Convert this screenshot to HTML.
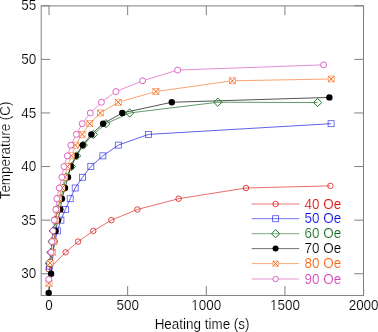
<!DOCTYPE html>
<html><head><meta charset="utf-8"><style>
html,body{margin:0;padding:0;background:#fff;}
body{width:378px;height:332px;overflow:hidden;}
svg{display:block;will-change:transform;}
text{font-family:"Liberation Sans",sans-serif;font-size:13px;stroke:#fff;stroke-width:0.15px;paint-order:fill;}
</style></head><body>
<svg width="378" height="332" viewBox="0 0 378 332">
<rect x="41.2" y="5.9" width="322.30" height="289.55" fill="none" stroke="#808080" stroke-width="1"/>
<line x1="49.00" y1="295.45" x2="49.00" y2="286.05" stroke="#808080" stroke-width="1"/>
<line x1="49.00" y1="5.9" x2="49.00" y2="15.1" stroke="#808080" stroke-width="1"/>
<text transform="translate(49.00,310.00) scale(1.035,1.07)" text-anchor="middle" fill="#000">0</text>
<line x1="127.65" y1="295.45" x2="127.65" y2="286.05" stroke="#808080" stroke-width="1"/>
<line x1="127.65" y1="5.9" x2="127.65" y2="15.1" stroke="#808080" stroke-width="1"/>
<text transform="translate(127.65,310.00) scale(1.035,1.07)" text-anchor="middle" fill="#000">500</text>
<line x1="206.30" y1="295.45" x2="206.30" y2="286.05" stroke="#808080" stroke-width="1"/>
<line x1="206.30" y1="5.9" x2="206.30" y2="15.1" stroke="#808080" stroke-width="1"/>
<text transform="translate(206.30,310.00) scale(1.035,1.07)" text-anchor="middle" fill="#000">1000</text>
<g transform="translate(206.30,310) scale(1.035,1.07)" fill="#fff"><rect x="-13.698" y="-1.05" width="2.507" height="1.4"/><rect x="-10.042" y="-1.05" width="2.438" height="1.4"/></g>
<line x1="284.95" y1="295.45" x2="284.95" y2="286.05" stroke="#808080" stroke-width="1"/>
<line x1="284.95" y1="5.9" x2="284.95" y2="15.1" stroke="#808080" stroke-width="1"/>
<text transform="translate(284.95,310.00) scale(1.035,1.07)" text-anchor="middle" fill="#000">1500</text>
<g transform="translate(284.95,310) scale(1.035,1.07)" fill="#fff"><rect x="-13.698" y="-1.05" width="2.507" height="1.4"/><rect x="-10.042" y="-1.05" width="2.438" height="1.4"/></g>
<line x1="363.60" y1="295.45" x2="363.60" y2="286.05" stroke="#808080" stroke-width="1"/>
<line x1="363.60" y1="5.9" x2="363.60" y2="15.1" stroke="#808080" stroke-width="1"/>
<text transform="translate(363.60,310.00) scale(1.035,1.07)" text-anchor="middle" fill="#000">2000</text>
<line x1="41.2" y1="273.76" x2="50.2" y2="273.76" stroke="#808080" stroke-width="1"/>
<line x1="363.5" y1="273.76" x2="354.3" y2="273.76" stroke="#808080" stroke-width="1"/>
<text transform="translate(36.30,278.46) scale(1.035,1.07)" text-anchor="end" fill="#000">30</text>
<line x1="41.2" y1="220.16" x2="50.2" y2="220.16" stroke="#808080" stroke-width="1"/>
<line x1="363.5" y1="220.16" x2="354.3" y2="220.16" stroke="#808080" stroke-width="1"/>
<text transform="translate(36.30,224.86) scale(1.035,1.07)" text-anchor="end" fill="#000">35</text>
<line x1="41.2" y1="166.56" x2="50.2" y2="166.56" stroke="#808080" stroke-width="1"/>
<line x1="363.5" y1="166.56" x2="354.3" y2="166.56" stroke="#808080" stroke-width="1"/>
<text transform="translate(36.30,171.26) scale(1.035,1.07)" text-anchor="end" fill="#000">40</text>
<line x1="41.2" y1="112.96" x2="50.2" y2="112.96" stroke="#808080" stroke-width="1"/>
<line x1="363.5" y1="112.96" x2="354.3" y2="112.96" stroke="#808080" stroke-width="1"/>
<text transform="translate(36.30,117.66) scale(1.035,1.07)" text-anchor="end" fill="#000">45</text>
<line x1="41.2" y1="59.36" x2="50.2" y2="59.36" stroke="#808080" stroke-width="1"/>
<line x1="363.5" y1="59.36" x2="354.3" y2="59.36" stroke="#808080" stroke-width="1"/>
<text transform="translate(36.30,64.06) scale(1.035,1.07)" text-anchor="end" fill="#000">50</text>
<line x1="41.2" y1="5.76" x2="50.2" y2="5.76" stroke="#808080" stroke-width="1"/>
<line x1="363.5" y1="5.76" x2="354.3" y2="5.76" stroke="#808080" stroke-width="1"/>
<text transform="translate(36.30,10.46) scale(1.035,1.07)" text-anchor="end" fill="#000">55</text>
<text transform="translate(202.10,328.60) scale(1.035,1.07)" text-anchor="middle" fill="#000">Heating time (s)</text>
<text transform="translate(9.8,150.4) rotate(-90) scale(1.035,1.07)" text-anchor="middle">Temperature (C)</text>
<path d="M48.60,269.15L65.60,252.32L78.10,241.60L93.30,230.88L111.40,220.16L137.40,209.44L178.60,198.72L246.00,188.00L330.40,185.86" fill="none" stroke="#dc0a0a" stroke-width="0.8" stroke-opacity="0.75"/>
<path d="M49.30,266.26L57.40,230.88L60.90,220.16L65.40,209.44L70.20,198.72L75.20,188.00L82.50,177.28L90.80,166.56L102.90,155.84L118.30,145.12L148.50,134.40L331.10,123.68" fill="none" stroke="#0a0ae0" stroke-width="0.8" stroke-opacity="0.82"/>
<path d="M49.30,263.04L50.80,252.32L52.00,241.60L53.20,230.88L55.50,220.16L57.60,209.44L60.80,198.72L63.40,188.00L66.00,177.28L71.50,166.56L76.60,155.84L83.30,145.12L93.40,134.40L105.90,123.68L129.70,112.96L217.80,102.24L317.60,102.56" fill="none" stroke="#166c1e" stroke-width="0.8" stroke-opacity="0.85"/>
<path d="M48.70,292.84L51.10,273.76L54.30,241.60L55.60,230.88L57.90,220.16L60.30,209.44L61.90,198.72L65.00,188.00L68.00,177.28L70.80,166.56L75.80,155.84L82.70,145.12L91.40,134.40L103.10,123.68L122.30,112.96L171.80,102.24L329.40,97.42" fill="none" stroke="#000000" stroke-width="0.8" stroke-opacity="0.85"/>
<path d="M49.00,283.41L50.10,263.04L52.60,252.32L53.80,241.60L56.00,220.16L57.00,209.44L58.80,198.72L62.00,188.00L64.80,177.28L67.40,166.56L71.50,155.84L75.50,145.12L82.10,134.40L89.80,123.68L100.30,112.96L118.20,102.24L155.90,91.52L232.40,80.80L331.20,78.98" fill="none" stroke="#f5640f" stroke-width="0.8" stroke-opacity="0.75"/>
<path d="M48.80,279.33L51.00,252.32L51.90,241.60L53.00,230.88L54.30,220.16L55.90,209.44L56.80,198.72L59.20,188.00L61.80,177.28L64.00,166.56L67.40,155.84L70.90,145.12L76.30,134.40L82.20,123.68L90.30,112.96L101.40,102.24L115.90,91.52L142.60,80.80L177.60,70.08L323.60,64.83" fill="none" stroke="#d442b6" stroke-width="0.8" stroke-opacity="0.75"/>
<circle cx="48.60" cy="269.15" r="2.75" fill="none" stroke="#dc0a0a" stroke-width="0.75"/><circle cx="65.60" cy="252.32" r="2.75" fill="none" stroke="#dc0a0a" stroke-width="0.75"/><circle cx="78.10" cy="241.60" r="2.75" fill="none" stroke="#dc0a0a" stroke-width="0.75"/><circle cx="93.30" cy="230.88" r="2.75" fill="none" stroke="#dc0a0a" stroke-width="0.75"/><circle cx="111.40" cy="220.16" r="2.75" fill="none" stroke="#dc0a0a" stroke-width="0.75"/><circle cx="137.40" cy="209.44" r="2.75" fill="none" stroke="#dc0a0a" stroke-width="0.75"/><circle cx="178.60" cy="198.72" r="2.75" fill="none" stroke="#dc0a0a" stroke-width="0.75"/><circle cx="246.00" cy="188.00" r="2.75" fill="none" stroke="#dc0a0a" stroke-width="0.75"/><circle cx="330.40" cy="185.86" r="2.75" fill="none" stroke="#dc0a0a" stroke-width="0.75"/>
<rect x="46.30" y="263.26" width="6.00" height="6.00" fill="none" stroke="#0a0ae0" stroke-width="0.8" stroke-opacity="0.7"/><rect x="54.40" y="227.88" width="6.00" height="6.00" fill="none" stroke="#0a0ae0" stroke-width="0.8" stroke-opacity="0.7"/><rect x="57.90" y="217.16" width="6.00" height="6.00" fill="none" stroke="#0a0ae0" stroke-width="0.8" stroke-opacity="0.7"/><rect x="62.40" y="206.44" width="6.00" height="6.00" fill="none" stroke="#0a0ae0" stroke-width="0.8" stroke-opacity="0.7"/><rect x="67.20" y="195.72" width="6.00" height="6.00" fill="none" stroke="#0a0ae0" stroke-width="0.8" stroke-opacity="0.7"/><rect x="72.20" y="185.00" width="6.00" height="6.00" fill="none" stroke="#0a0ae0" stroke-width="0.8" stroke-opacity="0.7"/><rect x="79.50" y="174.28" width="6.00" height="6.00" fill="none" stroke="#0a0ae0" stroke-width="0.8" stroke-opacity="0.7"/><rect x="87.80" y="163.56" width="6.00" height="6.00" fill="none" stroke="#0a0ae0" stroke-width="0.8" stroke-opacity="0.7"/><rect x="99.90" y="152.84" width="6.00" height="6.00" fill="none" stroke="#0a0ae0" stroke-width="0.8" stroke-opacity="0.7"/><rect x="115.30" y="142.12" width="6.00" height="6.00" fill="none" stroke="#0a0ae0" stroke-width="0.8" stroke-opacity="0.7"/><rect x="145.50" y="131.40" width="6.00" height="6.00" fill="none" stroke="#0a0ae0" stroke-width="0.8" stroke-opacity="0.7"/><rect x="328.10" y="120.68" width="6.00" height="6.00" fill="none" stroke="#0a0ae0" stroke-width="0.8" stroke-opacity="0.7"/>
<path d="M45.20,263.04L49.30,258.94L53.40,263.04L49.30,267.14Z" fill="none" stroke="#166c1e" stroke-width="0.95"/><path d="M46.70,252.32L50.80,248.22L54.90,252.32L50.80,256.42Z" fill="none" stroke="#166c1e" stroke-width="0.95"/><path d="M47.90,241.60L52.00,237.50L56.10,241.60L52.00,245.70Z" fill="none" stroke="#166c1e" stroke-width="0.95"/><path d="M49.10,230.88L53.20,226.78L57.30,230.88L53.20,234.98Z" fill="none" stroke="#166c1e" stroke-width="0.95"/><path d="M51.40,220.16L55.50,216.06L59.60,220.16L55.50,224.26Z" fill="none" stroke="#166c1e" stroke-width="0.95"/><path d="M53.50,209.44L57.60,205.34L61.70,209.44L57.60,213.54Z" fill="none" stroke="#166c1e" stroke-width="0.95"/><path d="M56.70,198.72L60.80,194.62L64.90,198.72L60.80,202.82Z" fill="none" stroke="#166c1e" stroke-width="0.95"/><path d="M59.30,188.00L63.40,183.90L67.50,188.00L63.40,192.10Z" fill="none" stroke="#166c1e" stroke-width="0.95"/><path d="M61.90,177.28L66.00,173.18L70.10,177.28L66.00,181.38Z" fill="none" stroke="#166c1e" stroke-width="0.95"/><path d="M67.40,166.56L71.50,162.46L75.60,166.56L71.50,170.66Z" fill="none" stroke="#166c1e" stroke-width="0.95"/><path d="M72.50,155.84L76.60,151.74L80.70,155.84L76.60,159.94Z" fill="none" stroke="#166c1e" stroke-width="0.95"/><path d="M79.20,145.12L83.30,141.02L87.40,145.12L83.30,149.22Z" fill="none" stroke="#166c1e" stroke-width="0.95"/><path d="M89.30,134.40L93.40,130.30L97.50,134.40L93.40,138.50Z" fill="none" stroke="#166c1e" stroke-width="0.95"/><path d="M101.80,123.68L105.90,119.58L110.00,123.68L105.90,127.78Z" fill="none" stroke="#166c1e" stroke-width="0.95"/><path d="M125.60,112.96L129.70,108.86L133.80,112.96L129.70,117.06Z" fill="none" stroke="#166c1e" stroke-width="0.95"/><path d="M213.70,102.24L217.80,98.14L221.90,102.24L217.80,106.34Z" fill="none" stroke="#166c1e" stroke-width="0.95"/><path d="M313.50,102.56L317.60,98.46L321.70,102.56L317.60,106.66Z" fill="none" stroke="#166c1e" stroke-width="0.95"/>
<circle cx="48.70" cy="292.84" r="3.20" fill="#000"/><circle cx="51.10" cy="273.76" r="3.20" fill="#000"/><circle cx="54.30" cy="241.60" r="3.20" fill="#000"/><circle cx="55.60" cy="230.88" r="3.20" fill="#000"/><circle cx="57.90" cy="220.16" r="3.20" fill="#000"/><circle cx="60.30" cy="209.44" r="3.20" fill="#000"/><circle cx="61.90" cy="198.72" r="3.20" fill="#000"/><circle cx="65.00" cy="188.00" r="3.20" fill="#000"/><circle cx="68.00" cy="177.28" r="3.20" fill="#000"/><circle cx="70.80" cy="166.56" r="3.20" fill="#000"/><circle cx="75.80" cy="155.84" r="3.20" fill="#000"/><circle cx="82.70" cy="145.12" r="3.20" fill="#000"/><circle cx="91.40" cy="134.40" r="3.20" fill="#000"/><circle cx="103.10" cy="123.68" r="3.20" fill="#000"/><circle cx="122.30" cy="112.96" r="3.20" fill="#000"/><circle cx="171.80" cy="102.24" r="3.20" fill="#000"/><circle cx="329.40" cy="97.42" r="3.20" fill="#000"/>
<rect x="46.00" y="280.41" width="6.00" height="6.00" fill="#fff" stroke="#f5640f" stroke-width="0.6" stroke-opacity="0.8"/><path d="M46.00,280.41L52.00,286.41M52.00,280.41L46.00,286.41" stroke="#f5640f" stroke-width="1.0"/><rect x="47.10" y="260.04" width="6.00" height="6.00" fill="#fff" stroke="#f5640f" stroke-width="0.6" stroke-opacity="0.8"/><path d="M47.10,260.04L53.10,266.04M53.10,260.04L47.10,266.04" stroke="#f5640f" stroke-width="1.0"/><rect x="49.60" y="249.32" width="6.00" height="6.00" fill="#fff" stroke="#f5640f" stroke-width="0.6" stroke-opacity="0.8"/><path d="M49.60,249.32L55.60,255.32M55.60,249.32L49.60,255.32" stroke="#f5640f" stroke-width="1.0"/><rect x="50.80" y="238.60" width="6.00" height="6.00" fill="#fff" stroke="#f5640f" stroke-width="0.6" stroke-opacity="0.8"/><path d="M50.80,238.60L56.80,244.60M56.80,238.60L50.80,244.60" stroke="#f5640f" stroke-width="1.0"/><rect x="53.00" y="217.16" width="6.00" height="6.00" fill="#fff" stroke="#f5640f" stroke-width="0.6" stroke-opacity="0.8"/><path d="M53.00,217.16L59.00,223.16M59.00,217.16L53.00,223.16" stroke="#f5640f" stroke-width="1.0"/><rect x="54.00" y="206.44" width="6.00" height="6.00" fill="#fff" stroke="#f5640f" stroke-width="0.6" stroke-opacity="0.8"/><path d="M54.00,206.44L60.00,212.44M60.00,206.44L54.00,212.44" stroke="#f5640f" stroke-width="1.0"/><rect x="55.80" y="195.72" width="6.00" height="6.00" fill="#fff" stroke="#f5640f" stroke-width="0.6" stroke-opacity="0.8"/><path d="M55.80,195.72L61.80,201.72M61.80,195.72L55.80,201.72" stroke="#f5640f" stroke-width="1.0"/><rect x="59.00" y="185.00" width="6.00" height="6.00" fill="#fff" stroke="#f5640f" stroke-width="0.6" stroke-opacity="0.8"/><path d="M59.00,185.00L65.00,191.00M65.00,185.00L59.00,191.00" stroke="#f5640f" stroke-width="1.0"/><rect x="61.80" y="174.28" width="6.00" height="6.00" fill="#fff" stroke="#f5640f" stroke-width="0.6" stroke-opacity="0.8"/><path d="M61.80,174.28L67.80,180.28M67.80,174.28L61.80,180.28" stroke="#f5640f" stroke-width="1.0"/><rect x="64.40" y="163.56" width="6.00" height="6.00" fill="#fff" stroke="#f5640f" stroke-width="0.6" stroke-opacity="0.8"/><path d="M64.40,163.56L70.40,169.56M70.40,163.56L64.40,169.56" stroke="#f5640f" stroke-width="1.0"/><rect x="68.50" y="152.84" width="6.00" height="6.00" fill="#fff" stroke="#f5640f" stroke-width="0.6" stroke-opacity="0.8"/><path d="M68.50,152.84L74.50,158.84M74.50,152.84L68.50,158.84" stroke="#f5640f" stroke-width="1.0"/><rect x="72.50" y="142.12" width="6.00" height="6.00" fill="#fff" stroke="#f5640f" stroke-width="0.6" stroke-opacity="0.8"/><path d="M72.50,142.12L78.50,148.12M78.50,142.12L72.50,148.12" stroke="#f5640f" stroke-width="1.0"/><rect x="79.10" y="131.40" width="6.00" height="6.00" fill="#fff" stroke="#f5640f" stroke-width="0.6" stroke-opacity="0.8"/><path d="M79.10,131.40L85.10,137.40M85.10,131.40L79.10,137.40" stroke="#f5640f" stroke-width="1.0"/><rect x="86.80" y="120.68" width="6.00" height="6.00" fill="#fff" stroke="#f5640f" stroke-width="0.6" stroke-opacity="0.8"/><path d="M86.80,120.68L92.80,126.68M92.80,120.68L86.80,126.68" stroke="#f5640f" stroke-width="1.0"/><rect x="97.30" y="109.96" width="6.00" height="6.00" fill="#fff" stroke="#f5640f" stroke-width="0.6" stroke-opacity="0.8"/><path d="M97.30,109.96L103.30,115.96M103.30,109.96L97.30,115.96" stroke="#f5640f" stroke-width="1.0"/><rect x="115.20" y="99.24" width="6.00" height="6.00" fill="#fff" stroke="#f5640f" stroke-width="0.6" stroke-opacity="0.8"/><path d="M115.20,99.24L121.20,105.24M121.20,99.24L115.20,105.24" stroke="#f5640f" stroke-width="1.0"/><rect x="152.90" y="88.52" width="6.00" height="6.00" fill="#fff" stroke="#f5640f" stroke-width="0.6" stroke-opacity="0.8"/><path d="M152.90,88.52L158.90,94.52M158.90,88.52L152.90,94.52" stroke="#f5640f" stroke-width="1.0"/><rect x="229.40" y="77.80" width="6.00" height="6.00" fill="#fff" stroke="#f5640f" stroke-width="0.6" stroke-opacity="0.8"/><path d="M229.40,77.80L235.40,83.80M235.40,77.80L229.40,83.80" stroke="#f5640f" stroke-width="1.0"/><rect x="328.20" y="75.98" width="6.00" height="6.00" fill="#fff" stroke="#f5640f" stroke-width="0.6" stroke-opacity="0.8"/><path d="M328.20,75.98L334.20,81.98M334.20,75.98L328.20,81.98" stroke="#f5640f" stroke-width="1.0"/>
<circle cx="48.80" cy="279.33" r="3.00" fill="#fff" stroke="#d442b6" stroke-width="0.8"/><circle cx="51.00" cy="252.32" r="3.00" fill="#fff" stroke="#d442b6" stroke-width="0.8"/><circle cx="51.90" cy="241.60" r="3.00" fill="#fff" stroke="#d442b6" stroke-width="0.8"/><circle cx="53.00" cy="230.88" r="3.00" fill="#fff" stroke="#d442b6" stroke-width="0.8"/><circle cx="54.30" cy="220.16" r="3.00" fill="#fff" stroke="#d442b6" stroke-width="0.8"/><circle cx="55.90" cy="209.44" r="3.00" fill="#fff" stroke="#d442b6" stroke-width="0.8"/><circle cx="56.80" cy="198.72" r="3.00" fill="#fff" stroke="#d442b6" stroke-width="0.8"/><circle cx="59.20" cy="188.00" r="3.00" fill="#fff" stroke="#d442b6" stroke-width="0.8"/><circle cx="61.80" cy="177.28" r="3.00" fill="#fff" stroke="#d442b6" stroke-width="0.8"/><circle cx="64.00" cy="166.56" r="3.00" fill="#fff" stroke="#d442b6" stroke-width="0.8"/><circle cx="67.40" cy="155.84" r="3.00" fill="#fff" stroke="#d442b6" stroke-width="0.8"/><circle cx="70.90" cy="145.12" r="3.00" fill="#fff" stroke="#d442b6" stroke-width="0.8"/><circle cx="76.30" cy="134.40" r="3.00" fill="#fff" stroke="#d442b6" stroke-width="0.8"/><circle cx="82.20" cy="123.68" r="3.00" fill="#fff" stroke="#d442b6" stroke-width="0.8"/><circle cx="90.30" cy="112.96" r="3.00" fill="#fff" stroke="#d442b6" stroke-width="0.8"/><circle cx="101.40" cy="102.24" r="3.00" fill="#fff" stroke="#d442b6" stroke-width="0.8"/><circle cx="115.90" cy="91.52" r="3.00" fill="#fff" stroke="#d442b6" stroke-width="0.8"/><circle cx="142.60" cy="80.80" r="3.00" fill="#fff" stroke="#d442b6" stroke-width="0.8"/><circle cx="177.60" cy="70.08" r="3.00" fill="#fff" stroke="#d442b6" stroke-width="0.8"/><circle cx="323.60" cy="64.83" r="3.00" fill="#fff" stroke="#d442b6" stroke-width="0.8"/>
<line x1="251.7" y1="204.00" x2="299.2" y2="204.00" stroke="#dc0a0a" stroke-width="0.8" stroke-opacity="0.7"/>
<circle cx="275.60" cy="204.00" r="2.75" fill="none" stroke="#dc0a0a" stroke-width="0.75"/>
<text transform="translate(304.60,208.60) scale(1.035,1.07)" text-anchor="start" fill="#dc0a0a">40 Oe</text>
<line x1="251.7" y1="218.70" x2="299.2" y2="218.70" stroke="#0a0ae0" stroke-width="0.8" stroke-opacity="0.7"/>
<rect x="272.60" y="215.70" width="6.00" height="6.00" fill="none" stroke="#0a0ae0" stroke-width="0.8" stroke-opacity="0.7"/>
<text transform="translate(304.60,223.30) scale(1.035,1.07)" text-anchor="start" fill="#0a0ae0">50 Oe</text>
<line x1="251.7" y1="233.70" x2="299.2" y2="233.70" stroke="#166c1e" stroke-width="0.8" stroke-opacity="0.7"/>
<path d="M271.50,233.70L275.60,229.60L279.70,233.70L275.60,237.80Z" fill="none" stroke="#166c1e" stroke-width="0.95"/>
<text transform="translate(304.60,238.30) scale(1.035,1.07)" text-anchor="start" fill="#166c1e">60 Oe</text>
<line x1="251.7" y1="248.60" x2="299.2" y2="248.60" stroke="#000000" stroke-width="0.8" stroke-opacity="0.7"/>
<circle cx="275.60" cy="248.60" r="3.01" fill="#000"/>
<text transform="translate(304.60,253.20) scale(1.035,1.07)" text-anchor="start" fill="#000000">70 Oe</text>
<line x1="251.7" y1="263.60" x2="299.2" y2="263.60" stroke="#f5640f" stroke-width="0.8" stroke-opacity="0.7"/>
<rect x="272.99" y="260.99" width="5.22" height="5.22" fill="#fff" stroke="#f5640f" stroke-width="0.6" stroke-opacity="0.8"/><path d="M272.99,260.99L278.21,266.21M278.21,260.99L272.99,266.21" stroke="#f5640f" stroke-width="1.0"/>
<text transform="translate(304.60,268.20) scale(1.035,1.07)" text-anchor="start" fill="#f5640f">80 Oe</text>
<line x1="251.7" y1="279.00" x2="299.2" y2="279.00" stroke="#d442b6" stroke-width="0.8" stroke-opacity="0.7"/>
<circle cx="275.60" cy="279.00" r="2.70" fill="#fff" stroke="#d442b6" stroke-width="0.8"/>
<text transform="translate(304.60,283.60) scale(1.035,1.07)" text-anchor="start" fill="#d442b6">90 Oe</text>
</svg>
</body></html>
